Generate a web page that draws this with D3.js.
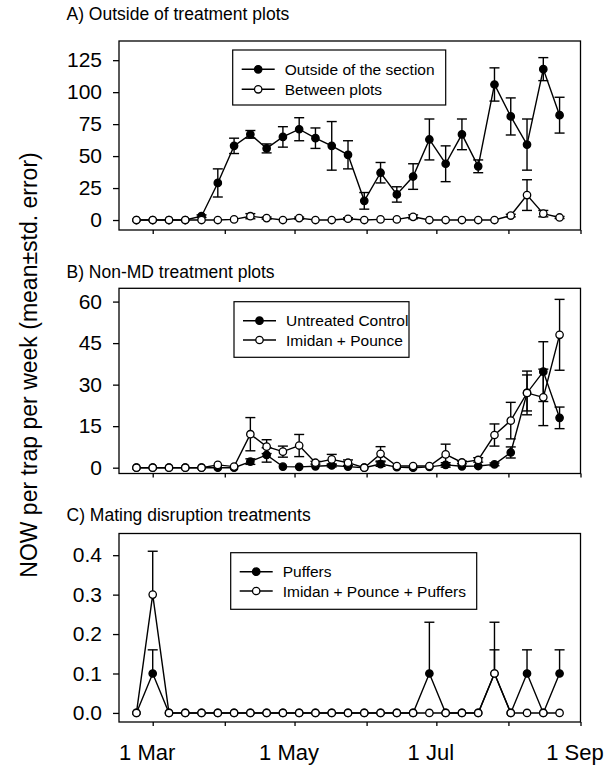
<!DOCTYPE html>
<html>
<head>
<meta charset="utf-8">
<script src="https://cdn.jsdelivr.net/npm/d3@7"></script>
<style>
  html, body { margin: 0; padding: 0; background: #fff; }
  svg { display: block; font-family: "Liberation Sans", Arial, Helvetica, sans-serif; }
</style>
</head>
<body>
<svg id="chart" width="605" height="766"></svg>
<script>
// ---------- DATA ----------
const sampleDates = [
  "2001-02-22","2001-03-01","2001-03-08","2001-03-15","2001-03-22","2001-03-29",
  "2001-04-05","2001-04-12","2001-04-19","2001-04-26","2001-05-03","2001-05-10",
  "2001-05-17","2001-05-24","2001-05-31","2001-06-07","2001-06-14","2001-06-21",
  "2001-06-28","2001-07-05","2001-07-12","2001-07-19","2001-07-26","2001-08-02",
  "2001-08-09","2001-08-16","2001-08-23"
];

// Panel A
const outsideSection    = [0,0,0,0,3,29,58,67,56,65,71,64,58,51,15,37,20,34,63,44,67,42,106,81,59,118,82];
const outsideSectionErr = [0,0,0,0,1,11,6,3,3.5,8,9,8,19,11,6.5,8,6,10,16,14,12,5,13,14.5,20,9,14];
const betweenPlots      = [0,0,0,0,0,0,0.5,3,1.5,0,1.5,0,0,1,0,0.5,0.5,2.5,0,0,0,0,0,3.5,19.5,5,2];
const betweenPlotsErr   = [0,0,0,0,0,0,0,2,0.8,0,0.8,0,0,0.8,0,0,0,1.5,0,0,0,0,0,1,12,2.5,0.8];

// Panel B
const untreatedControl    = [0,0,0,0,0,0,0,2.2,4.6,0.4,0.3,0.5,0.8,0.4,0,1.3,0.2,0,0.3,1,0.5,0.6,1.2,5.5,27,34.7,18];
const untreatedControlErr = [0,0,0,0,0,0,0,1,2.6,0,0,0,0.5,0,0,0.8,0,0,0,0.8,0,0,0.5,2,6.5,10.8,3.9];
const imidanPounce        = [0,0,0,0,0,1,0.4,12.1,7.6,5.8,8,1.8,3,1.8,0,5,0.6,0.6,0.6,4.8,1.9,2.8,11.8,17,27,25.4,48];
const imidanPounceErr     = [0,0,0,0,0,0,0,6,2.5,2,4,0.5,1.8,1,0,2.6,0,0,0,3.7,0.5,0.8,4,6.6,7.9,10.2,12.8];

// Panel C
const puffers                = [0,0.1,0,0,0,0,0,0,0,0,0,0,0,0,0,0,0,0,0.1,0,0,0,0.1,0,0.1,0,0.1];
const puffersErr             = [0,0.06,0,0,0,0,0,0,0,0,0,0,0,0,0,0,0,0,0.13,0,0,0,0.06,0,0.06,0,0.06];
const imidanPouncePuffers    = [0,0.3,0,0,0,0,0,0,0,0,0,0,0,0,0,0,0,0,0,0,0,0,0.1,0,0,0,0];
const imidanPouncePuffersErr = [0,0.11,0,0,0,0,0,0,0,0,0,0,0,0,0,0,0,0,0,0,0,0,0.13,0,0,0,0];

// Axes
const monthTicks = ["2001-03-01","2001-04-01","2001-05-01","2001-06-01","2001-07-01","2001-08-01","2001-09-01"];
const monthLabels = ["1 Mar","","1 May","","1 Jul","","1 Sep"];
const yTicksA = [0,25,50,75,100,125];
const yTicksB = [0,15,30,45,60];
const yTicksC = [0,0.1,0.2,0.3,0.4];

const panelTitles = ["A) Outside of treatment plots","B) Non-MD treatment plots","C) Mating disruption treatments"];
const yTitle = "NOW per trap per week (mean\u00B1std. error)";

// ---------- LAYOUT ----------
const parse = d3.timeParse("%Y-%m-%d");
const dates = sampleDates.map(parse);
const tickDates = monthTicks.map(parse);

const x = d3.scaleTime()
  .domain([new Date(2001, 1, 14, 12), parse("2001-09-01")])
  .range([119, 580.5]);

const panels = [
  { title: panelTitles[0], titleY: 20, top: 41, bottom: 230, domain: [-7.8, 140], ticks: yTicksA, fmt: d3.format("d"),
    bothSides: true,
    legend: { x: 232.7, y: 50, w: 213, h: 55, rows: [19.3, 39.3] },
    series: [
      { name: "Outside of the section", values: outsideSection, err: outsideSectionErr, filled: true },
      { name: "Between plots", values: betweenPlots, err: betweenPlotsErr, filled: false }
    ] },
  { title: panelTitles[1], titleY: 278, top: 288.3, bottom: 473.5, domain: [-2.1, 64.8], ticks: yTicksB, fmt: d3.format("d"),
    bothSides: true,
    legend: { x: 234, y: 301.7, w: 175, h: 55.6, rows: [19, 38.3] },
    series: [
      { name: "Untreated Control", values: untreatedControl, err: untreatedControlErr, filled: true },
      { name: "Imidan + Pounce", values: imidanPounce, err: imidanPounceErr, filled: false }
    ] },
  { title: panelTitles[2], titleY: 520.7, top: 533.5, bottom: 722, domain: [-0.023, 0.455], ticks: yTicksC, fmt: d3.format(".1f"),
    bothSides: false,
    legend: { x: 230.7, y: 552.7, w: 246, h: 56.6, rows: [19, 38.3] },
    series: [
      { name: "Puffers", values: puffers, err: puffersErr, filled: true },
      { name: "Imidan + Pounce + Puffers", values: imidanPouncePuffers, err: imidanPouncePuffersErr, filled: false }
    ] }
];

const svg = d3.select("#chart");
const R = 3.7, CAP = 5, SW = 1.4;

panels.forEach((p, pi) => {
  const y = d3.scaleLinear().domain(p.domain).range([p.bottom, p.top]);
  const g = svg.append("g");

  // title
  g.append("text").attr("x", 66.5).attr("y", p.titleY)
    .attr("font-size", 17.5).attr("fill", "#000").text(p.title);

  // y axis
  const ya = g.append("g").attr("transform", `translate(${x.range()[0]},0)`)
    .call(d3.axisLeft(y).tickValues(p.ticks).tickFormat(p.fmt).tickSize(6).tickPadding(11));
  ya.select(".domain").remove();
  ya.selectAll("line").attr("stroke", "#000").attr("stroke-width", 1.3);
  ya.selectAll("text").attr("font-size", 21).attr("fill", "#000").attr("font-family", null);

  // x axis
  const xa = g.append("g").attr("transform", `translate(0,${p.bottom})`)
    .call(d3.axisBottom(x).tickValues(tickDates)
      .tickFormat((d, i) => pi === 2 ? monthLabels[i] : "").tickSize(4).tickPadding(18));
  xa.select(".domain").remove();
  xa.selectAll("line").attr("stroke", "#000").attr("stroke-width", 1.3);
  xa.selectAll("text").attr("font-size", 22).attr("fill", "#000").attr("font-family", null).attr("dx", -6);

  // frame
  g.append("rect").attr("x", x.range()[0]).attr("y", p.top)
    .attr("width", x.range()[1] - x.range()[0]).attr("height", p.bottom - p.top)
    .attr("fill", "none").attr("stroke", "#000").attr("stroke-width", 1.3);

  // series
  const line = d3.line().x((d, i) => x(dates[i])).y(d => y(d));
  p.series.forEach(s => {
    const sg = g.append("g");
    // error bars
    s.values.forEach((v, i) => {
      const e = s.err[i];
      if (!e) return;
      const cx = x(dates[i]);
      const lo = p.bothSides ? v - e : v;
      const hi = v + e;
      sg.append("line").attr("x1", cx).attr("x2", cx).attr("y1", y(lo)).attr("y2", y(hi))
        .attr("stroke", "#000").attr("stroke-width", SW);
      sg.append("line").attr("x1", cx - CAP).attr("x2", cx + CAP).attr("y1", y(hi)).attr("y2", y(hi))
        .attr("stroke", "#000").attr("stroke-width", SW);
      if (p.bothSides) {
        sg.append("line").attr("x1", cx - CAP).attr("x2", cx + CAP).attr("y1", y(lo)).attr("y2", y(lo))
          .attr("stroke", "#000").attr("stroke-width", SW);
      }
    });
    sg.append("path").datum(s.values).attr("d", line)
      .attr("fill", "none").attr("stroke", "#000").attr("stroke-width", SW);
    sg.selectAll("circle").data(s.values).join("circle")
      .attr("cx", (d, i) => x(dates[i])).attr("cy", d => y(d)).attr("r", R)
      .attr("fill", s.filled ? "#000" : "#fff").attr("stroke", "#000").attr("stroke-width", 1.3);
  });

  // legend
  const L = p.legend;
  const lg = g.append("g");
  lg.append("rect").attr("x", L.x).attr("y", L.y).attr("width", L.w).attr("height", L.h)
    .attr("fill", "#fff").attr("stroke", "#000").attr("stroke-width", 1.2);
  p.series.forEach((s, k) => {
    const ry = L.y + L.rows[k];
    lg.append("line").attr("x1", L.x + 9).attr("x2", L.x + 42).attr("y1", ry).attr("y2", ry)
      .attr("stroke", "#000").attr("stroke-width", SW);
    lg.append("circle").attr("cx", L.x + 25.5).attr("cy", ry).attr("r", R)
      .attr("fill", s.filled ? "#000" : "#fff").attr("stroke", "#000").attr("stroke-width", 1.3);
    lg.append("text").attr("x", L.x + 52).attr("y", ry + 5.5)
      .attr("font-size", 15.5).attr("fill", "#000").text(s.name);
  });
});

// y title
svg.append("text")
  .attr("transform", "translate(37,365) rotate(-90)")
  .attr("text-anchor", "middle").attr("font-size", 23).attr("fill", "#000")
  .text(yTitle);
</script>
</body>
</html>
